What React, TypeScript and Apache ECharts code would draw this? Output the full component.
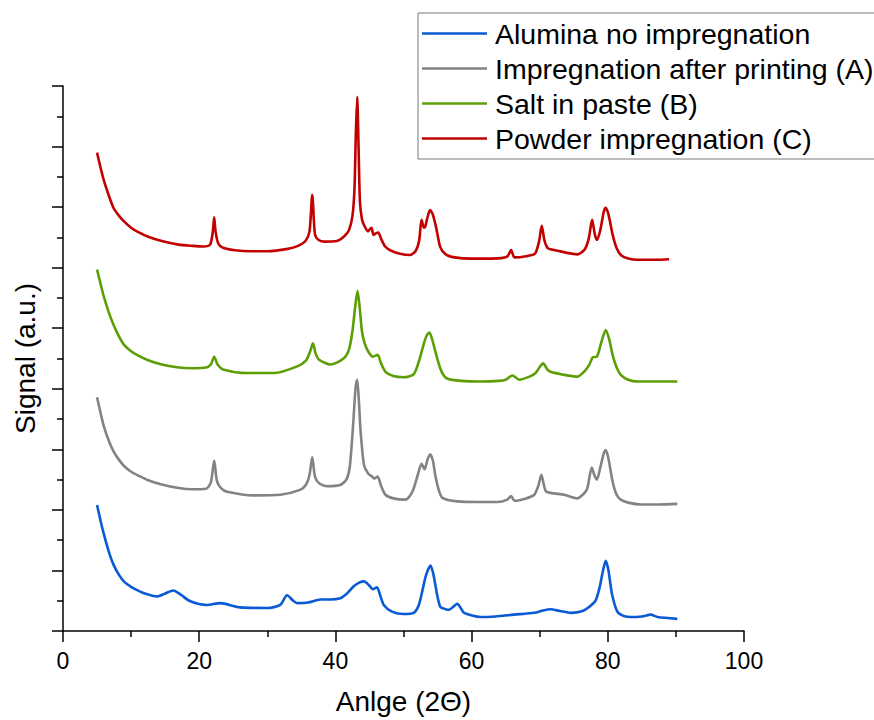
import React, { useEffect, useRef } from "react";
import * as echarts from "echarts";

const seriesNames = [
  "Alumina no impregnation",
  "Impregnation after printing (A)",
  "Salt in paste (B)",
  "Powder impregnation (C)",
];
const seriesColors = ["#0a5ad4", "#838383", "#5c9e06", "#c20000"];

const xTicks = [0, 20, 40, 60, 80, 100];

const blueAngle = [5.0, 5.5, 6.0, 6.7, 7.4, 8.2, 9.0, 10.0, 10.8, 12.0, 13.8, 15.0, 16.2, 17.3, 18.7, 21.1, 23.1, 26.0, 30.0, 31.9, 32.9, 33.8, 34.4, 36.0, 37.8, 39.3, 40.7, 41.7, 42.7, 43.5, 44.2, 44.9, 45.5, 46.1, 46.6, 47.1, 48.3, 50.0, 51.5, 52.25, 52.8, 53.3, 53.97, 54.4, 54.9, 55.4, 56.2, 56.7, 57.4, 57.9, 58.4, 58.9, 61.3, 63.5, 66.2, 69.2, 70.5, 71.6, 73.0, 74.6, 76.3, 77.3, 78.2, 78.8, 79.3, 79.7, 80.1, 80.6, 81.4, 82.3, 83.4, 85.0, 86.3, 87.3, 90.2];
const blueSignal = [2.08, 1.83, 1.6, 1.32, 1.1, 0.93, 0.81, 0.73, 0.68, 0.62, 0.57, 0.62, 0.67, 0.6, 0.49, 0.43, 0.46, 0.39, 0.38, 0.43, 0.59, 0.5, 0.46, 0.47, 0.52, 0.52, 0.54, 0.62, 0.74, 0.8, 0.82, 0.76, 0.69, 0.72, 0.58, 0.43, 0.32, 0.28, 0.3, 0.43, 0.68, 0.92, 1.08, 0.93, 0.62, 0.4, 0.36, 0.35, 0.41, 0.45, 0.38, 0.3, 0.23, 0.24, 0.27, 0.3, 0.34, 0.36, 0.33, 0.3, 0.33, 0.4, 0.5, 0.72, 1.0, 1.16, 1.0, 0.62, 0.32, 0.25, 0.23, 0.24, 0.27, 0.23, 0.2];

const greyAngle = [5.0, 5.5, 6.0, 6.7, 7.4, 8.2, 9.0, 10.0, 11.0, 12.5, 14.5, 17.0, 19.0, 21.0, 21.7, 22.2, 22.6, 23.2, 24.1, 28.0, 31.9, 34.8, 35.7, 36.2, 36.6, 37.0, 37.6, 38.8, 40.7, 41.6, 42.1, 42.6, 42.95, 43.2, 43.45, 43.7, 44.2, 44.8, 45.4, 45.7, 46.2, 46.7, 47.35, 48.5, 50.3, 51.3, 52.1, 52.65, 53.1, 53.5, 53.9, 54.3, 54.7, 55.2, 55.7, 57.9, 61.0, 63.8, 65.25, 65.8, 66.3, 68.0, 69.2, 69.8, 70.25, 70.6, 71.0, 73.6, 75.5, 76.5, 77.0, 77.65, 78.0, 78.4, 78.9, 79.4, 79.7, 80.1, 80.7, 81.3, 81.9, 83.0, 84.85, 87.5, 90.2];
const greySignal = [3.86, 3.61, 3.38, 3.15, 2.97, 2.83, 2.72, 2.63, 2.57, 2.49, 2.42, 2.36, 2.34, 2.35, 2.45, 2.81, 2.48, 2.36, 2.3, 2.24, 2.25, 2.33, 2.42, 2.58, 2.87, 2.55, 2.44, 2.39, 2.41, 2.5, 2.7, 3.4, 4.0, 4.15, 3.8, 3.3, 2.74, 2.6, 2.55, 2.52, 2.55, 2.4, 2.25, 2.19, 2.17, 2.3, 2.58, 2.76, 2.67, 2.82, 2.92, 2.82, 2.55, 2.32, 2.2, 2.14, 2.13, 2.13, 2.17, 2.23, 2.15, 2.19, 2.25, 2.4, 2.58, 2.42, 2.3, 2.25, 2.19, 2.27, 2.36, 2.7, 2.58, 2.5, 2.7, 2.93, 2.99, 2.85, 2.47, 2.25, 2.17, 2.12, 2.09, 2.09, 2.1];

const greenAngle = [5.0, 5.5, 6.0, 6.7, 7.4, 8.2, 9.0, 10.0, 11.0, 12.5, 14.5, 17.0, 19.0, 21.0, 21.7, 22.2, 22.7, 23.5, 27.0, 31.0, 34.4, 35.7, 36.3, 36.7, 37.1, 37.6, 39.3, 41.2, 42.0, 42.5, 42.9, 43.25, 43.6, 43.9, 44.3, 44.8, 45.5, 46.2, 46.7, 47.35, 48.5, 50.0, 51.5, 52.25, 53.0, 53.4, 53.8, 54.3, 54.95, 55.6, 56.4, 58.5, 61.3, 64.0, 65.0, 66.0, 67.0, 68.5, 69.4, 70.0, 70.5, 71.1, 71.6, 73.6, 75.5, 76.5, 77.25, 77.8, 78.4, 79.0, 79.7, 80.2, 80.7, 81.3, 81.9, 83.0, 84.4, 87.0, 90.2];
const greenSignal = [5.97, 5.74, 5.52, 5.27, 5.06, 4.87, 4.72, 4.62, 4.55, 4.47, 4.4, 4.35, 4.34, 4.35, 4.4, 4.53, 4.4, 4.32, 4.26, 4.26, 4.37, 4.47, 4.62, 4.75, 4.58, 4.48, 4.4, 4.5, 4.65, 4.95, 5.35, 5.62, 5.3, 4.95, 4.75, 4.62, 4.53, 4.56, 4.42, 4.28, 4.21, 4.19, 4.24, 4.45, 4.75, 4.88, 4.93, 4.78, 4.5, 4.28, 4.17, 4.13, 4.12, 4.13, 4.15, 4.22, 4.15, 4.2, 4.26, 4.36, 4.42, 4.32, 4.28, 4.23, 4.2, 4.28, 4.39, 4.52, 4.53, 4.75, 4.97, 4.82, 4.56, 4.35, 4.23, 4.15, 4.12, 4.12, 4.12];

const redAngle = [5.0, 5.5, 6.0, 6.7, 7.4, 8.2, 9.0, 10.0, 11.0, 12.5, 14.5, 17.0, 19.0, 20.6, 21.6, 22.0, 22.2, 22.4, 22.8, 23.5, 26.0, 30.0, 33.0, 34.5, 35.6, 36.2, 36.6, 37.0, 37.5, 38.3, 40.2, 41.3, 42.0, 42.5, 42.8, 43.0, 43.2, 43.4, 43.6, 43.9, 44.3, 44.8, 45.1, 45.3, 45.6, 46.0, 46.3, 46.7, 47.3, 48.2, 49.5, 51.0, 51.8, 52.3, 52.65, 53.0, 53.2, 53.5, 53.9, 54.3, 54.8, 55.4, 56.2, 57.5, 60.0, 63.0, 65.2, 65.8, 66.3, 68.0, 69.3, 69.9, 70.3, 70.7, 71.2, 72.6, 75.5, 76.6, 77.2, 77.7, 78.1, 78.4, 78.9, 79.4, 79.7, 80.1, 80.7, 81.3, 82.0, 83.0, 84.4, 87.0, 89.0];
const redSignal = [7.9, 7.66, 7.44, 7.2, 6.99, 6.86, 6.76, 6.66, 6.59, 6.51, 6.44, 6.38, 6.36, 6.35, 6.38, 6.6, 6.83, 6.6, 6.4, 6.33, 6.28, 6.27, 6.31, 6.36, 6.44, 6.6, 7.2, 6.55, 6.46, 6.43, 6.44, 6.52, 6.62, 6.85, 7.3, 8.2, 8.82, 8.0, 7.1, 6.8, 6.68, 6.6, 6.64, 6.66, 6.54, 6.57, 6.58, 6.48, 6.35, 6.28, 6.23, 6.21, 6.28, 6.45, 6.79, 6.66, 6.68, 6.82, 6.95, 6.88, 6.66, 6.34, 6.22, 6.17, 6.15, 6.15, 6.18, 6.29, 6.17, 6.19, 6.23, 6.43, 6.69, 6.45, 6.32, 6.28, 6.22, 6.3, 6.48, 6.79, 6.55, 6.46, 6.62, 6.92, 6.99, 6.88, 6.55, 6.32, 6.2, 6.15, 6.13, 6.13, 6.14];

const angles = [blueAngle, greyAngle, greenAngle, redAngle];
const signals = [blueSignal, greySignal, greenSignal, redSignal];

const FONT = "'Liberation Sans', Arial, sans-serif";

export default function App() {
  const ref = useRef<HTMLDivElement>(null);
  useEffect(() => {
    if (!ref.current) return;
    const chart = echarts.init(ref.current, null, { renderer: "svg" });
    const series = seriesNames.map((name, i) => ({
      name,
      type: "line",
      data: angles[i].map((a, j) => [a, signals[i][j]]),
      symbol: "none",
      smooth: 0.25,
      lineStyle: { color: seriesColors[i], width: 2.6 },
      itemStyle: { color: seriesColors[i] },
      z: 2 + i,
    }));
    chart.setOption({
      animation: false,
      backgroundColor: "#ffffff",
      textStyle: { fontFamily: FONT },
      grid: { left: 63, right: 130, top: 86, bottom: 87, containLabel: false },
      legend: {
        orient: "vertical",
        left: 418,
        top: 13,
        padding: [3, 12, 3, 4],
        icon: "rect",
        itemWidth: 65,
        itemHeight: 2.5,
        itemGap: 0,
        backgroundColor: "#ffffff",
        borderColor: "#7a7a7a",
        borderWidth: 1,
        borderRadius: 0,
        textStyle: { fontSize: 28.5, color: "#000", fontFamily: FONT, lineHeight: 35, padding: [0, 0, 0, 3] },
        data: seriesNames,
      },
      xAxis: {
        type: "value",
        min: xTicks[0],
        max: xTicks[xTicks.length - 1],
        interval: 20,
        name: "Anlge (2Θ)",
        nameLocation: "middle",
        nameGap: 56,
        nameTextStyle: { fontSize: 28, color: "#000", fontFamily: FONT },
        axisLine: { show: true, onZero: false, lineStyle: { color: "#000", width: 1.5 } },
        axisTick: { show: true, inside: false, length: 11, lineStyle: { color: "#000", width: 1.5 } },
        minorTick: { show: true, splitNumber: 2, length: 6, lineStyle: { color: "#000", width: 1.5 } },
        axisLabel: { fontSize: 23, color: "#000", margin: 18, fontFamily: FONT },
        splitLine: { show: false },
      },
      yAxis: {
        type: "value",
        min: 0,
        max: 9,
        interval: 1,
        name: "Signal (a.u.)",
        nameLocation: "middle",
        nameGap: 24,
        nameRotate: 90,
        nameTextStyle: { fontSize: 28, color: "#000", fontFamily: FONT },
        axisLine: { show: true, lineStyle: { color: "#000", width: 1.5 } },
        axisTick: { show: true, inside: false, length: 11, lineStyle: { color: "#000", width: 1.5 } },
        minorTick: { show: true, splitNumber: 2, length: 6, lineStyle: { color: "#000", width: 1.5 } },
        axisLabel: { show: false },
        splitLine: { show: false },
      },
      series,
    });
    return () => chart.dispose();
  }, []);
  return (
    <div
      ref={ref}
      style={{ position: "fixed", left: 0, top: 0, width: 874, height: 720, background: "#fff" }}
    />
  );
}
